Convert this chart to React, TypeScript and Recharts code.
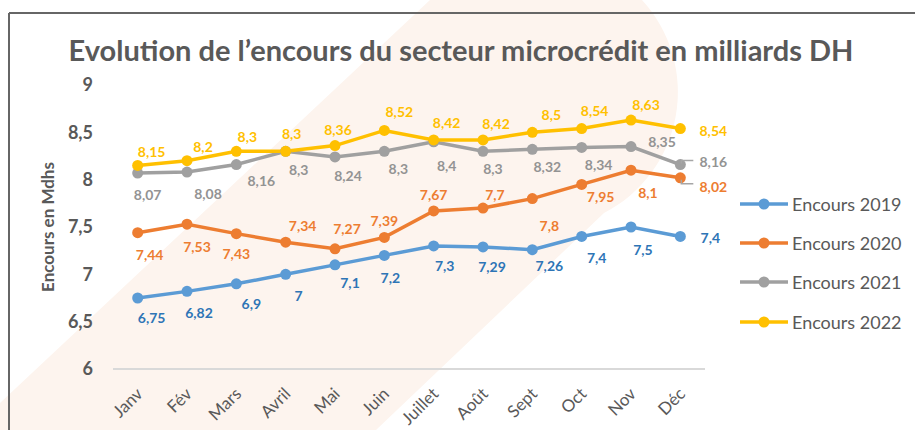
import React from 'react';
import { LineChart, Line, XAxis, YAxis, LabelList } from 'recharts';

const months = ['Janv', 'Fév', 'Mars', 'Avril', 'Mai', 'Juin', 'Juillet', 'Août', 'Sept', 'Oct', 'Nov', 'Déc'];
const enc2019 = [6.75, 6.82, 6.9, 7, 7.1, 7.2, 7.3, 7.29, 7.26, 7.4, 7.5, 7.4];
const enc2020 = [7.44, 7.53, 7.43, 7.34, 7.27, 7.39, 7.67, 7.7, 7.8, 7.95, 8.1, 8.02];
const enc2021 = [8.07, 8.08, 8.16, 8.3, 8.24, 8.3, 8.4, 8.3, 8.32, 8.34, 8.35, 8.16];
const enc2022 = [8.15, 8.2, 8.3, 8.3, 8.36, 8.52, 8.42, 8.42, 8.5, 8.54, 8.63, 8.54];
const yTicks = [6, 6.5, 7, 7.5, 8, 8.5, 9];
const seriesNames = ['Encours 2019', 'Encours 2020', 'Encours 2021', 'Encours 2022'];
const titleText = 'Evolution de l’encours du secteur microcrédit en milliards DH';
const yTitle = 'Encours en Mdhs';

// label placement offsets (dx, dy) relative to each point
const off2019 = [[14, 19], [12, 21], [15, 20], [13, 21], [15, 18], [6, 22], [11, 20], [9, 20], [17, 16], [15, 21], [12, 22], [30, 1]];
const off2020 = [[12, 22], [10, 22], [0, 20], [17, -17], [12, -20], [0, -17], [0, -16], [12, -14], [17, 27], [19, 12], [17, 22], [33, 9]];
const off2021 = [[10, 21], [21, 21], [25, 16], [13, 18], [13, 19], [14, 17], [13, 24], [10, 17], [15, 17], [17, 17], [31, -5], [33, -3]];
const off2022 = [[14, -14], [16, -14], [11, -15], [6, -18], [3, -16], [15, -19], [13, -17], [13, -16], [19, -18], [13, -18], [15, -16], [33, 2]];

const data = months.map((m, i) => ({
  month: m,
  s2019: enc2019[i],
  s2020: enc2020[i],
  s2021: enc2021[i],
  s2022: enc2022[i],
}));

const FONT = 'Lato, "Open Sans", sans-serif';
const TXT = '#595959';

const series = [
  { key: 's2019', name: seriesNames[0], line: '#5B9BD5', label: '#2E75B6', offs: off2019, leader: null },
  { key: 's2020', name: seriesNames[1], line: '#ED7D31', label: '#ED7D31', offs: off2020, leader: 'down' },
  { key: 's2021', name: seriesNames[2], line: '#A0A0A0', label: '#939393', offs: off2021, leader: 'up' },
  { key: 's2022', name: seriesNames[3], line: '#FFC000', label: '#FFC000', offs: off2022, leader: null },
];

const fmt = (v: number) => String(v).replace('.', ',');

const makeLabel = (color: string, offs: number[][], leader: string | null) => (props: any) => {
  const { x, y, value, index } = props;
  const o = offs[index] || [0, 0];
  let leaderPath = null;
  if (leader && index === offs.length - 1) {
    const d = leader === 'down'
      ? `M ${x + 1} ${y + 2} L ${x + 1} ${y + 6} L ${x + 13} ${y + 6}`
      : `M ${x + 1} ${y - 1} L ${x + 1} ${y - 4} L ${x + 13} ${y - 4}`;
    leaderPath = <path d={d} stroke="#A6A6A6" strokeWidth={1.5} fill="none" />;
  }
  return (
    <g>
      {leaderPath}
      <text x={x + o[0]} y={y + o[1]} textAnchor="middle" dominantBaseline="central"
        fontFamily={FONT} fontWeight={700} fontSize={14} fill={color}>{fmt(value)}</text>
    </g>
  );
};

const XTick = (props: any) => {
  const { x, y, payload } = props;
  return (
    <g transform={`translate(${x + 6},${y + 18})`}>
      <text transform="rotate(-45)" textAnchor="end" fontFamily={FONT} fontSize={17} fill={TXT}>{payload.value}</text>
    </g>
  );
};

const YTitle = (props: any) => {
  const { viewBox } = props;
  const cy = viewBox.y + viewBox.height / 2;
  return (
    <text x={47} y={cy} transform={`rotate(-90, 47, ${cy})`} textAnchor="middle" dominantBaseline="central"
      fontFamily={FONT} fontWeight={700} fontSize={17} fill={TXT}>{yTitle}</text>
  );
};

export default function App() {
  return (
    <div style={{ position: 'absolute', left: 0, top: 0, width: 915, height: 430, overflow: 'hidden', background: '#fff' }}>
      <svg width={915} height={430} style={{ position: 'absolute', left: 0, top: 0 }}>
        <path d="M -30 431 L 430 0 L 642 0 A 136 136 0 0 1 604 213 L 376 430 Z" fill="#FDF4EE" />
        <line x1={9} y1={13} x2={915} y2={13} stroke="#666" strokeWidth={2} />
        <line x1={9} y1={13} x2={9} y2={430} stroke="#666" strokeWidth={2} />
      </svg>
      <div style={{ position: 'absolute', left: 0, width: 922, top: 32, textAlign: 'center', fontFamily: FONT, fontWeight: 700, fontSize: 29, color: TXT, whiteSpace: 'nowrap' }}>
        {titleText}
      </div>
      <div style={{ position: 'absolute', left: 0, top: 0 }}>
        <LineChart width={915} height={430} data={data} margin={{ top: 85, right: 210, bottom: 11, left: 30 }}>
          <XAxis dataKey="month" height={50} padding={{ left: 24.67, right: 24.67 }} tickLine={false}
            axisLine={{ stroke: '#D9D9D9', strokeWidth: 2 }} tick={<XTick />} interval={0} />
          <YAxis type="number" domain={[6, 9]} ticks={yTicks} width={83} axisLine={false} tickLine={false}
            tickMargin={14} tickFormatter={fmt}
            tick={{ fontFamily: FONT, fontWeight: 700, fontSize: 18, fill: TXT }}
            label={<YTitle />} />
          {series.map((s) => (
            <Line key={s.key} dataKey={s.key} name={s.name} stroke={s.line} strokeWidth={3.5}
              dot={{ r: 5.5, fill: s.line, stroke: s.line, strokeWidth: 0 }} activeDot={false}
              isAnimationActive={false}>
              <LabelList dataKey={s.key} content={makeLabel(s.label, s.offs, s.leader)} />
            </Line>
          ))}
        </LineChart>
      </div>
      <div style={{ position: 'absolute', left: 740, top: 184, fontFamily: FONT, fontSize: 18, color: TXT }}>
        {series.map((s) => (
          <div key={s.key} style={{ display: 'flex', alignItems: 'center', height: 39.3 }}>
            <svg width={50} height={14}>
              <line x1={0} y1={7} x2={48} y2={7} stroke={s.line} strokeWidth={3.5} />
              <circle cx={24} cy={7} r={5.5} fill={s.line} />
            </svg>
            <span style={{ marginLeft: 2 }}>{s.name}</span>
          </div>
        ))}
      </div>
    </div>
  );
}
